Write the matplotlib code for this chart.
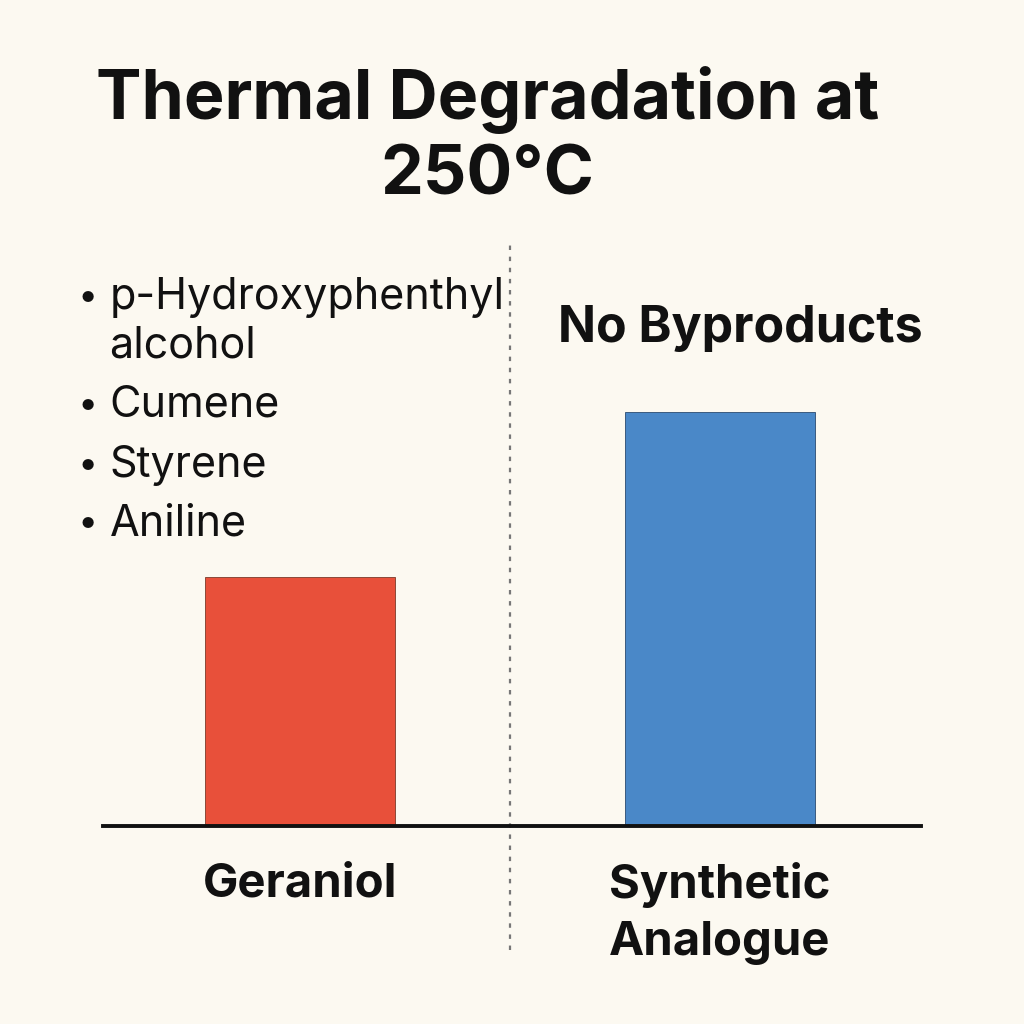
import matplotlib
matplotlib.use('Agg')
import matplotlib.pyplot as plt

# data
compounds = ['Geraniol', 'Synthetic\nAnalogue']
stability = [60, 100]
bar_colors = ['#E8503A', '#4A88C8']
byproducts = [['p-Hydroxyphenthyl', 'alcohol'], ['Cumene'], ['Styrene'], ['Aniline']]
synthetic_note = 'No Byproducts'
title = 'Thermal Degradation at\n250°C'

plt.rcParams['font.family'] = ['Inter', 'DejaVu Sans']
bg = '#FCF9F1'

fig = plt.figure(figsize=(10.24, 10.24), dpi=100, facecolor=bg)
# axes in pixels: x 103..921, bottom at 826, height 580
ax = fig.add_axes([103 / 1024, (1024 - 826) / 1024, 818 / 1024, 580 / 1024])
ax.set_facecolor(bg)

x = list(range(len(compounds)))
bars = ax.bar(x, stability, width=0.452, color=bar_colors, linewidth=0.6)
bars[0].set_edgecolor('#7a3a2a')
bars[1].set_edgecolor('#2a4a70')
ax.set_xlim(-0.469, 1.479)
ax.set_ylim(0, 140)

for s in ['top', 'right', 'left']:
    ax.spines[s].set_visible(False)
ax.spines['bottom'].set_linewidth(2.8)
ax.spines['bottom'].set_color('#111111')
ax.set_yticks([])
ax.set_xticks(x)
ax.set_xticklabels(compounds, fontsize=34, fontweight='bold', color='#111111',
                   linespacing=1.38, va='top')
ax.tick_params(axis='x', length=0, pad=26)

# divider
ax.axvline(0.5, ymin=-0.214, ymax=1.01, color='#777777', linestyle=(0, (2, 3)),
           linewidth=1.6, clip_on=False)

fig.text(0.476, 1 - 137 / 1024, title, ha='center', va='center', fontsize=49,
         fontweight='bold', color='#111111', linespacing=1.22)

# byproduct list (y positions in pixels from top)
row_y = [298, 405, 465, 524]
for lines, yy in zip(byproducts, row_y):
    fig.text(0.076, 1 - yy / 1024, '•', fontsize=26, va='center', ha='left', color='#111111')
    for k, line in enumerate(lines):
        fig.text(0.107, 1 - (yy + 48 * k) / 1024, line, fontsize=31, va='center',
                 ha='left', color='#111111')

fig.text(0.723, 1 - 328 / 1024, synthetic_note, ha='center', va='center', fontsize=36,
         fontweight='bold', color='#111111')

fig.savefig('out.png', dpi=100, facecolor=bg)
